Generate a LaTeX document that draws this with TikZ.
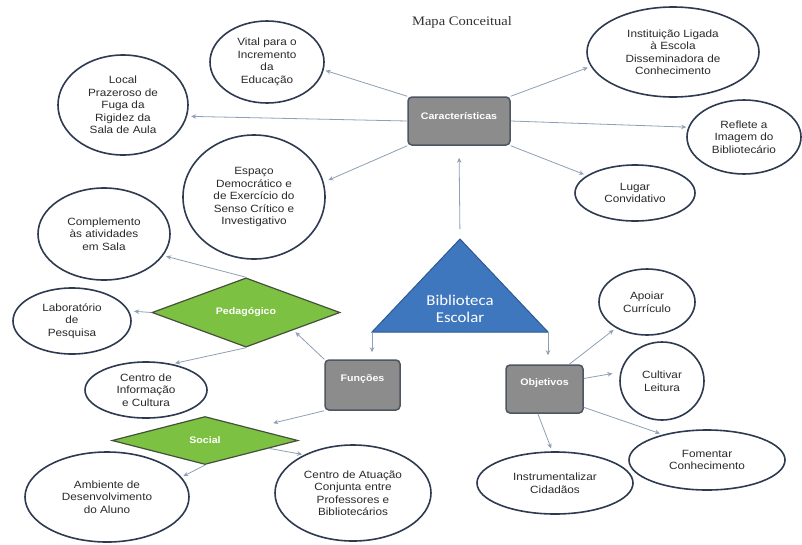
\documentclass[tikz,border=0pt]{standalone}
\usepackage{fontspec}
\setmainfont{Liberation Sans}[FakeStretch=1.12]
\newfontfamily\titlefont{Liberation Serif}[FakeStretch=1.12]
\newfontfamily\calfont{Carlito}[FakeStretch=1.12]
\usetikzlibrary{shapes.geometric,arrows.meta}
\definecolor{ellborder}{HTML}{2E3A50}
\definecolor{arrcol}{HTML}{8EA0B5}
\definecolor{boxfill}{HTML}{8C8C8C}
\definecolor{boxborder}{HTML}{4D5662}
\definecolor{greenfill}{HTML}{7CC142}
\definecolor{greenborder}{HTML}{44503C}
\definecolor{bluefill}{HTML}{3E77BD}
\definecolor{blueborder}{HTML}{2D5A92}
\definecolor{txt}{HTML}{2A2A2A}
\begin{document}
\begin{tikzpicture}[x=1pt,y=-1pt,
 oval/.style={ellipse, draw=ellborder, line width=1.6pt, fill=white, inner sep=0pt, align=center, text=txt, font=\fontsize{10.5}{12.5}\selectfont},
 gbox/.style={rectangle, rounded corners=4pt, draw=boxborder, line width=1.5pt, fill=boxfill},
 boxlbl/.style={text=white, font=\bfseries\fontsize{9.5}{11}\selectfont},
 gdiam/.style={diamond, draw=greenborder, fill=greenfill, line width=1.2pt, inner sep=0pt, text=white, font=\bfseries\fontsize{9.5}{11}\selectfont},
 arr/.style={draw=arrcol, line width=0.8pt, -{Stealth[length=5pt,width=4.5pt]}},
]
\useasboundingbox[fill=white] (0,0) rectangle (802,544);

\node[font=\titlefont\fontsize{13}{15}\selectfont, text=black!80] (title) at (462,22) {Mapa Conceitual};

% triangle
\coordinate (apex) at (460,239);
\coordinate (bl) at (372,332);
\coordinate (br) at (548,332);
\draw[fill=bluefill, draw=blueborder, line width=1pt] (bl) -- (apex) -- (br) -- cycle;
\node[text=white, font=\calfont\fontsize{15}{17}\selectfont, align=center] (bib) at (460,309) {Biblioteca\\Escolar};

% boxes
\node[gbox, minimum width=102pt, minimum height=48pt] (car) at (459,121) {};
\node[boxlbl] (carlbl) at ([yshift=5pt]car.center) {Características};
\node[gbox, minimum width=75pt, minimum height=50pt] (fun) at (362.5,385) {};
\node[boxlbl] (funlbl) at ([yshift=6pt]fun.center) {Funções};
\node[gbox, minimum width=77pt, minimum height=48pt] (obj) at (544.5,389) {};
\node[boxlbl] (objlbl) at ([yshift=6pt]obj.center) {Objetivos};

% diamonds
\node[gdiam, minimum width=188pt, minimum height=49pt] (ped) at (246,312.5) {Pedagógico};
\node[gdiam, minimum width=186pt, minimum height=48pt] (soc) at (205,440.5) {Social};

% ellipses
\node[oval, minimum width=114pt, minimum height=82pt] (vital) at (267,62) {Vital para o\\Incremento\\da\\Educação};
\node[oval, minimum width=130pt, minimum height=100pt] (local) at (123,105) {Local\\Prazeroso de\\Fuga da\\Rigidez da\\Sala de Aula};
\node[oval, minimum width=142pt, minimum height=124pt] (esp) at (254,197) {Espaço\\Democrático e\\de Exercício do\\Senso Crítico e\\Investigativo};
\node[oval, minimum width=172pt, minimum height=90pt] (inst) at (673,52) {Instituição Ligada\\à Escola\\Disseminadora de\\Conhecimento};
\node[oval, minimum width=114pt, minimum height=74pt] (refl) at (744,137) {Reflete a\\Imagem do\\Bibliotecário};
\node[oval, minimum width=120pt, minimum height=56pt] (lugar) at (635,193) {Lugar\\Convidativo};
\node[oval, minimum width=132pt, minimum height=92pt] (comp) at (104,234) {Complemento\\às atividades\\em Sala};
\node[oval, minimum width=118pt, minimum height=66pt] (lab) at (72,321) {Laboratório\\de\\Pesquisa};
\node[oval, minimum width=122pt, minimum height=56pt] (info) at (146,390) {Centro de\\Informação\\e Cultura};
\node[oval, minimum width=164pt, minimum height=90pt] (amb) at (107,497) {Ambiente de\\Desenvolvimento\\do Aluno};
\node[oval, minimum width=156pt, minimum height=96pt] (cat) at (353,493) {Centro de Atuação\\Conjunta entre\\Professores e\\Bibliotecários};
\node[oval, minimum width=96pt, minimum height=66pt] (apo) at (647,302) {Apoiar\\Currículo};
\node[oval, minimum width=84pt, minimum height=78pt] (cul) at (662,381) {Cultivar\\Leitura};
\node[oval, minimum width=156pt, minimum height=60pt] (fom) at (707,460) {Fomentar\\Conhecimento};
\node[oval, minimum width=156pt, minimum height=62pt] (ins) at (555,483) {Instrumentalizar\\Cidadãos};

% connectors
\draw[arr, shorten >=2pt] (car.north west) -- (vital.-8);
\draw[arr, shorten >=4pt] (car.west) -- (local.-10);
\draw[arr, shorten >=5pt] (car.south west) -- (esp.12);
\draw[arr, shorten >=3pt] (car.north east) -- (inst.190);
\draw[arr, shorten >=2pt] (car.east) -- (refl.170);
\draw[arr, shorten >=3pt] (car.south east) -- (lugar.160);
\draw[arr, shorten <=10pt, shorten >=12pt] (apex) -- (car.south);
\draw[arr, shorten >=7pt] (bl) -- (bl |- fun.north);
\draw[arr, shorten >=9pt] (br) -- (br |- obj.north);
\draw[arr, shorten >=3pt] (fun.north west) -- (ped.south east);
\draw[arr, shorten >=22pt] (fun.south west) -- (soc.north east);
\draw[arr, shorten >=3pt] (ped.north) -- (comp.-20);
\draw[arr, shorten >=5pt] (ped.west) -- (lab.10);
\draw[arr, shorten >=3pt] (ped.south) -- (info.45);
\draw[arr, shorten >=2pt] (soc.south) -- (amb.15);
\draw[arr, shorten >=2pt] (soc.-7) -- (cat.142);
\draw[arr, shorten >=3pt] (obj.45) -- (apo.220);
\draw[arr, shorten >=8pt] (obj.15) -- (cul.168);
\draw[arr, shorten >=3pt] (obj.-105) -- (ins.95);
\draw[arr, shorten >=3pt] (obj.-25) -- (fom.150);
\end{tikzpicture}
\end{document}
